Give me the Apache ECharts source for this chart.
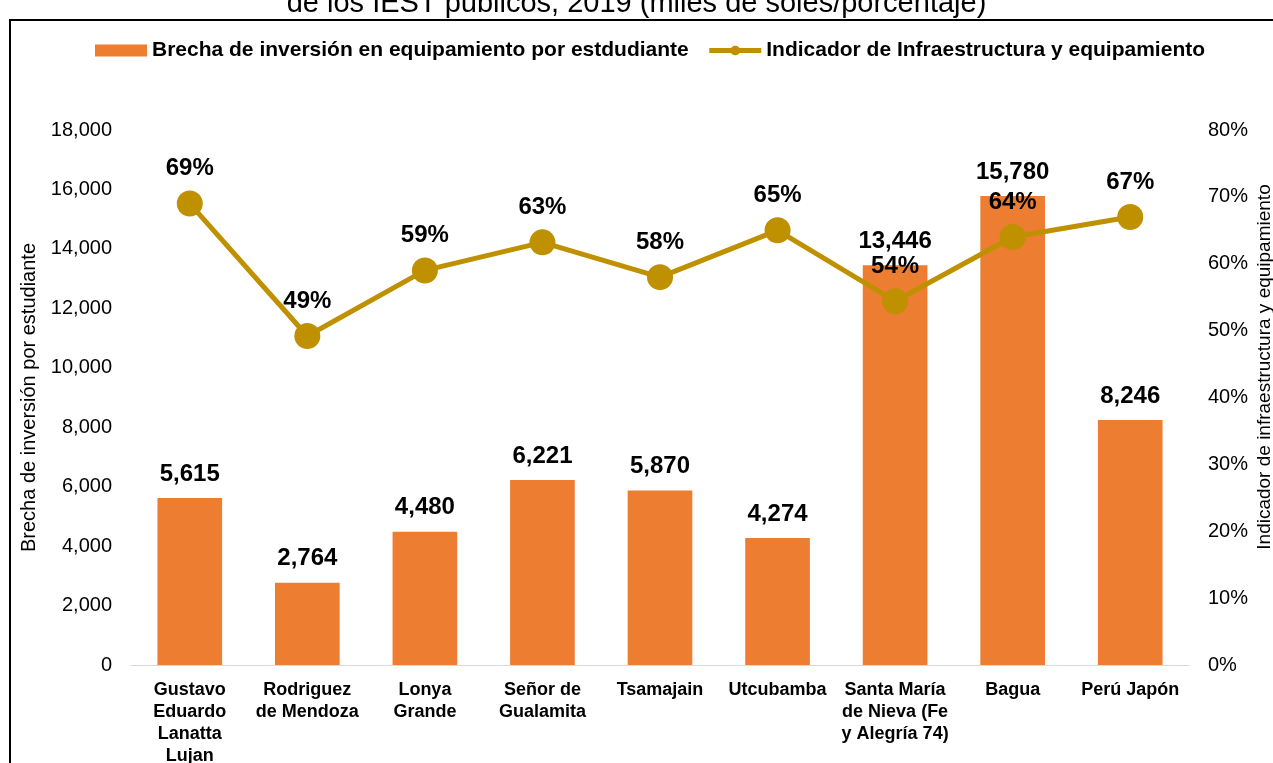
<!DOCTYPE html>
<html>
<head>
<meta charset="utf-8">
<title>Brecha de inversión</title>
<script src="https://cdn.jsdelivr.net/npm/echarts@6/dist/echarts.min.js"></script>
<style>
    html, body { margin: 0; padding: 0; background: #fff; }
    #chart { width: 1273px; height: 763px; }
</style>
</head>
<body>
<div id="chart"></div>
<script>
// categorías (IEST públicos)
var categorias = [
    'Gustavo\nEduardo\nLanatta\nLujan',
    'Rodriguez\nde Mendoza',
    'Lonya\nGrande',
    'Señor de\nGualamita',
    'Tsamajain',
    'Utcubamba',
    'Santa María\nde Nieva (Fe\ny Alegría 74)',
    'Bagua',
    'Perú Japón'
];
// brecha de inversión por estudiante (miles de soles)
var brecha = [5615, 2764, 4480, 6221, 5870, 4274, 13446, 15780, 8246];
// indicador de infraestructura y equipamiento
var indicador = [0.69, 0.492, 0.59, 0.632, 0.58, 0.65, 0.544, 0.64, 0.67];

var FONT = 'Liberation Sans, Arial, sans-serif';
var ORO = '#BF9000';

var chart = echarts.init(document.getElementById('chart'));
var option = {
    backgroundColor: '#fff',
    textStyle: { fontFamily: FONT },
    title: {
        text: 'de los IEST públicos, 2019 (miles de soles/porcentaje)',
        left: 'center',
        top: -16,
        textStyle: { fontFamily: FONT, fontSize: 29, fontWeight: 'normal', color: '#000' }
    },
    graphic: [{
        type: 'rect',
        shape: { x: 10, y: 20, width: 1280, height: 760 },
        style: { fill: 'none', stroke: '#000', lineWidth: 2 },
        silent: true
    }, {
        // título del eje derecho
        type: 'text',
        x: 1265,
        y: 367,
        rotation: Math.PI / 2,
        style: {
            text: 'Indicador de infraestructura y equipamiento',
            fill: '#000',
            font: '19px ' + FONT,
            align: 'center',
            verticalAlign: 'middle'
        },
        silent: true
    }],
    legend: {
        top: 35,
        left: 90,
        itemGap: 18,
        itemWidth: 52,
        itemHeight: 12,
        textStyle: { fontFamily: FONT, fontSize: 21, fontWeight: 'bold', color: '#000' },
        data: [
            { name: 'Brecha de inversión en equipamiento por estdudiante', icon: 'rect' },
            {
                name: 'Indicador de Infraestructura y equipamiento',
                lineStyle: { color: ORO, width: 5 },
                itemStyle: { color: ORO }
            }
        ]
    },
    grid: { left: 131, right: 84, top: 130, bottom: 98, outerBoundsMode: 'none', containLabel: false },
    xAxis: {
        type: 'category',
        data: categorias,
        axisTick: { show: false },
        axisLine: { lineStyle: { color: '#d9d9d9', width: 1 } },
        axisLabel: {
            interval: 0,
            margin: 14,
            fontFamily: FONT,
            fontSize: 18,
            fontWeight: 'bold',
            color: '#000',
            lineHeight: 22
        }
    },
    yAxis: [{
        type: 'value',
        min: 0,
        max: 18000,
        interval: 2000,
        name: 'Brecha de inversión por estudiante',
        nameLocation: 'middle',
        nameGap: 85,
        nameTextStyle: { fontFamily: FONT, fontSize: 20, color: '#000' },
        axisLine: { show: false },
        axisTick: { show: false },
        splitLine: { show: false },
        axisLabel: {
            margin: 19,
            fontFamily: FONT,
            fontSize: 20,
            color: '#000',
            formatter: function (v) { return v.toLocaleString('en-US'); }
        }
    }, {
        type: 'value',
        min: 0,
        max: 0.8,
        interval: 0.1,
        axisLine: { show: false },
        axisTick: { show: false },
        splitLine: { show: false },
        axisLabel: {
            margin: 19,
            fontFamily: FONT,
            fontSize: 20,
            color: '#000',
            formatter: function (v) { return Math.round(v * 100) + '%'; }
        }
    }],
    series: [{
        name: 'Brecha de inversión en equipamiento por estdudiante',
        type: 'bar',
        data: brecha,
        barWidth: '55%',
        itemStyle: { color: '#ED7D31' },
        label: {
            show: true,
            position: 'top',
            distance: 12,
            fontFamily: FONT,
            fontSize: 24,
            fontWeight: 'bold',
            color: '#000',
            formatter: function (p) { return p.value.toLocaleString('en-US'); }
        }
    }, {
        name: 'Indicador de Infraestructura y equipamiento',
        type: 'line',
        yAxisIndex: 1,
        data: indicador,
        symbol: 'circle',
        symbolSize: 26,
        lineStyle: { color: ORO, width: 5 },
        itemStyle: { color: ORO },
        label: {
            show: true,
            position: 'top',
            distance: 10,
            fontFamily: FONT,
            fontSize: 24,
            fontWeight: 'bold',
            color: '#000',
            formatter: function (p) { return Math.round(p.value * 100) + '%'; }
        },
        z: 5
    }]
};
chart.setOption(option);
</script>
</body>
</html>
